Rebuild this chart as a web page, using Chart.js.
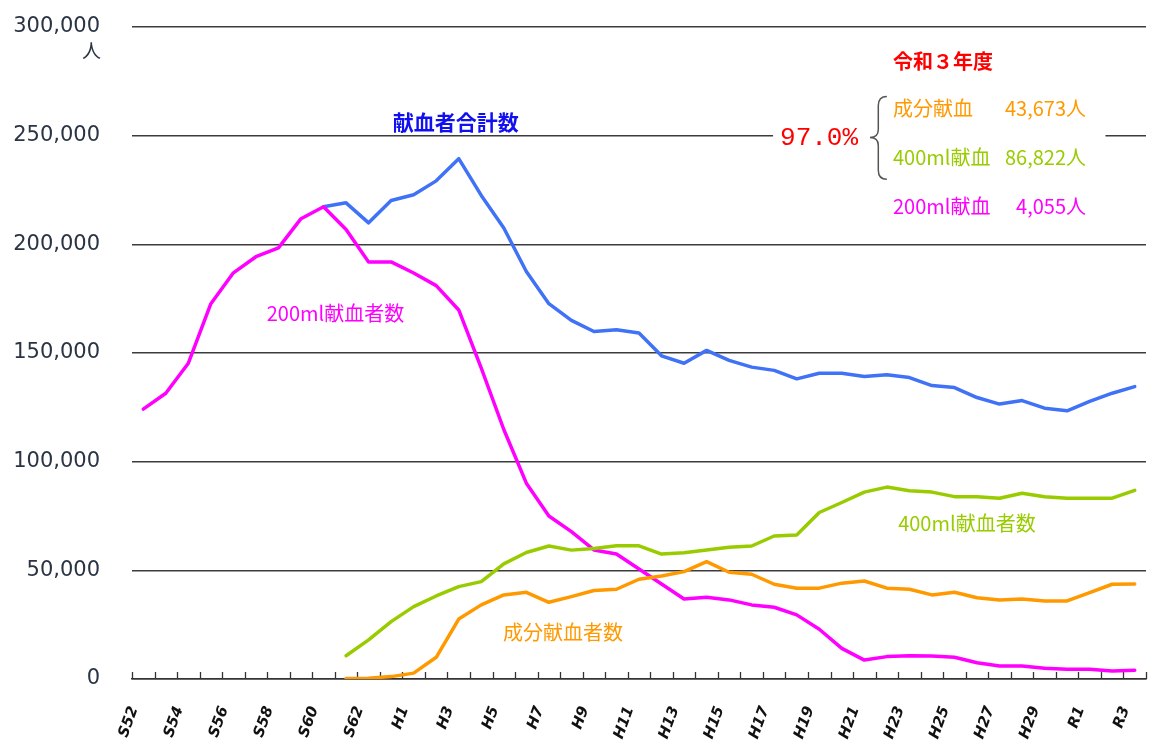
<!DOCTYPE html>
<html>
<head>
<meta charset="utf-8">
<script src="https://cdn.jsdelivr.net/npm/chart.js@4.4.0/dist/chart.umd.min.js"></script>
<style>
  html, body { margin: 0; padding: 0; background: #fff; }
</style>
</head>
<body>
<canvas id="donorChart" width="1152" height="740"></canvas>
<script>
// 年度ラベル (S52 - R3)
const years = [
  'S52','S53','S54','S55','S56','S57','S58','S59','S60','S61','S62','S63',
  'H1','H2','H3','H4','H5','H6','H7','H8','H9','H10','H11','H12','H13','H14','H15',
  'H16','H17','H18','H19','H20','H21','H22','H23','H24','H25','H26','H27','H28','H29','H30',
  'R1','R2','R3'
];

// 献血者合計数
const totalDonors = [
  null, null, null, null, null, null, null, null,
  217300, 219100, 209900, 220200, 222800, 229200, 239400, 222500, 207500, 187500,
  172700, 165000, 159900, 160700, 159200, 148700, 145300, 151200, 146600, 143500,
  142000, 138100, 140700, 140700, 139200, 140000, 138700, 135000, 134100, 129500,
  126500, 128100, 124600, 123400, 127700, 131500, 134550
];

// 200ml献血者数
const ml200Donors = [
  124200, 131500, 145300, 172700, 186900, 194300, 198400, 211800, 217300, 206800,
  191900, 191900, 186800, 181000, 169800, 143000, 114800, 90100, 75000, 67800,
  59400, 57500, 50600, 43700, 36800, 37600, 36400, 34100, 33000, 29500,
  22900, 14100, 8700, 10300, 10700, 10600, 10000, 7500, 6000, 6000,
  4900, 4500, 4500, 3700, 4055
];

// 400ml献血者数
const ml400Donors = [
  null, null, null, null, null, null, null, null, null,
  10700, 18000, 26400, 33300, 38200, 42500, 44800, 53000, 58200, 61200,
  59300, 60000, 61300, 61300, 57500, 58100, 59400, 60600, 61200, 65800,
  66300, 76600, 81200, 86000, 88300, 86600, 86000, 83900, 83900, 83200,
  85500, 83900, 83200, 83200, 83200, 86822
];

// 成分献血者数
const apheresisDonors = [
  null, null, null, null, null, null, null, null, null,
  200, 400, 1100, 2700, 10000, 27600, 34100, 38700, 39900, 35300,
  37900, 40700, 41300, 45900, 47400, 49400, 54000, 49100, 48200, 43600,
  41800, 41800, 44100, 45100, 41800, 41300, 38700, 39900, 37400, 36400,
  36800, 35900, 35900, 39700, 43600, 43673
];

const yTicks = [0, 50000, 100000, 150000, 200000, 250000, 300000];

const jp = '"Noto Sans CJK JP", sans-serif';

// 線の上の説明文など
const notes = {
  id: 'notes',
  beforeDatasetsDraw(chart) {
    const { ctx, chartArea, scales: { x, y } } = chart;
    ctx.save();
    // x軸の目盛り (内向き)
    const step = x.getPixelForValue(1) - x.getPixelForValue(0);
    ctx.strokeStyle = '#333';
    ctx.lineWidth = 1.3;
    for (let i = 0; i <= years.length; i++) {
      const px = Math.round(x.getPixelForValue(i) - step / 2) + 0.5;
      ctx.beginPath();
      ctx.moveTo(px, chartArea.bottom);
      ctx.lineTo(px, chartArea.bottom - 7);
      ctx.stroke();
    }
    // 令和3年度の枠の下地
    const bx1 = x.getPixelForValue(27.95), bx2 = x.getPixelForValue(42.7);
    const by1 = y.getPixelForValue(294000), by2 = y.getPixelForValue(206000);
    ctx.fillStyle = '#fff';
    ctx.fillRect(bx1, by1, bx2 - bx1, by2 - by1);
    ctx.restore();
  },
  afterDatasetsDraw(chart) {
    const { ctx, scales: { x, y } } = chart;
    ctx.save();
    ctx.textBaseline = 'middle';
    ctx.textAlign = 'left';

    ctx.font = 'bold 21px ' + jp;
    ctx.fillStyle = '#1010f0';
    ctx.fillText('献血者合計数', x.getPixelForValue(11.07), y.getPixelForValue(256200));

    ctx.font = '20px ' + jp;
    ctx.fillStyle = '#ff00ff';
    ctx.fillText('200ml献血者数', x.getPixelForValue(5.48), y.getPixelForValue(168000));
    ctx.fillStyle = '#99cc00';
    ctx.fillText('400ml献血者数', x.getPixelForValue(33.5), y.getPixelForValue(71800));
    ctx.fillStyle = '#ff9900';
    ctx.fillText('成分献血者数', x.getPixelForValue(15.96), y.getPixelForValue(21600));

    // 令和3年度
    const left = x.getPixelForValue(33.27), right = x.getPixelForValue(41.84);
    ctx.font = 'bold 20px ' + jp;
    ctx.fillStyle = '#ff0000';
    ctx.fillText('令和３年度', left, y.getPixelForValue(284300));

    ctx.font = '26px "Liberation Mono", monospace';
    ctx.fillText('97.0%', x.getPixelForValue(28.26), y.getPixelForValue(249100));

    const rows = [
      ['成分献血', '43,673人', '#ff9900', 262400],
      ['400ml献血', '86,822人', '#99cc00', 239900],
      ['200ml献血', '4,055人', '#ff00ff', 217300]
    ];
    ctx.font = '20px ' + jp;
    rows.forEach(r => {
      ctx.fillStyle = r[2];
      ctx.textAlign = 'left';
      ctx.fillText(r[0], left, y.getPixelForValue(r[3]));
      ctx.textAlign = 'right';
      ctx.fillText(r[1], right, y.getPixelForValue(r[3]));
    });

    // かっこ
    const xl = x.getPixelForValue(32.25), xm = x.getPixelForValue(32.62), xr = x.getPixelForValue(33.0);
    const yt = y.getPixelForValue(268000), yc = y.getPixelForValue(249100), yb = y.getPixelForValue(230000);
    ctx.strokeStyle = '#555';
    ctx.lineWidth = 1.5;
    ctx.beginPath();
    ctx.moveTo(xr, yt);
    ctx.quadraticCurveTo(xm, yt, xm, yt + 9);
    ctx.lineTo(xm, yc - 8);
    ctx.quadraticCurveTo(xm, yc, xl, yc);
    ctx.quadraticCurveTo(xm, yc, xm, yc + 8);
    ctx.lineTo(xm, yb - 9);
    ctx.quadraticCurveTo(xm, yb, xr, yb);
    ctx.stroke();

    // 単位
    ctx.font = '19px ' + jp;
    ctx.fillStyle = '#2a3444';
    ctx.textAlign = 'right';
    ctx.fillText('人', y.left + y.width - 31, y.getPixelForValue(289000));
    ctx.restore();
  }
};

function lineSet(label, data, color) {
  return {
    label: label,
    data: data,
    borderColor: color,
    backgroundColor: color,
    borderWidth: 3.5,
    pointRadius: 0,
    tension: 0,
    fill: false,
    borderJoinStyle: 'round',
    borderCapStyle: 'round'
  };
}

new Chart(document.getElementById('donorChart'), {
  type: 'line',
  data: {
    labels: years,
    datasets: [
      lineSet('成分献血者数', apheresisDonors, '#ff9900'),
      lineSet('400ml献血者数', ml400Donors, '#99cc00'),
      lineSet('200ml献血者数', ml200Donors, '#ff00ff'),
      lineSet('献血者合計数', totalDonors, '#4072f7')
    ]
  },
  options: {
    responsive: false,
    animation: false,
    layout: { padding: { top: 27, right: 6, left: 0, bottom: 0 } },
    plugins: {
      legend: { display: false },
      tooltip: { enabled: false }
    },
    scales: {
      x: {
        offset: true,
        grid: { display: false },
        border: { display: true, color: '#333', width: 1.5 },
        ticks: {
          autoSkip: false,
          maxRotation: 70,
          minRotation: 70,
          padding: 17,
          labelOffset: -9,
          color: '#111',
          font: { family: '"DejaVu Sans"', size: 15, style: 'italic', weight: 'bold' },
          callback: (v, i) => (i % 2 === 0 ? years[i] : '')
        },
        afterFit: s => {
          s.height = 61;
          s.paddingLeft = 0;
          s.paddingRight = 0;
        }
      },
      y: {
        min: 0,
        max: 300000,
        afterBuildTicks: s => { s.ticks = yTicks.map(v => ({ value: v })); },
        grid: { color: '#3c3c3c', lineWidth: 1.5, drawTicks: false },
        border: { display: false },
        ticks: {
          padding: 32,
          color: '#2a3444',
          font: { family: '"DejaVu Sans"', size: 21 },
          callback: v => v.toLocaleString('en-US')
        },
        afterFit: s => {
          s.width = 132;
          s.paddingTop = 0;
          s.paddingBottom = 0;
        }
      }
    }
  },
  plugins: [notes]
});
</script>
</body>
</html>
